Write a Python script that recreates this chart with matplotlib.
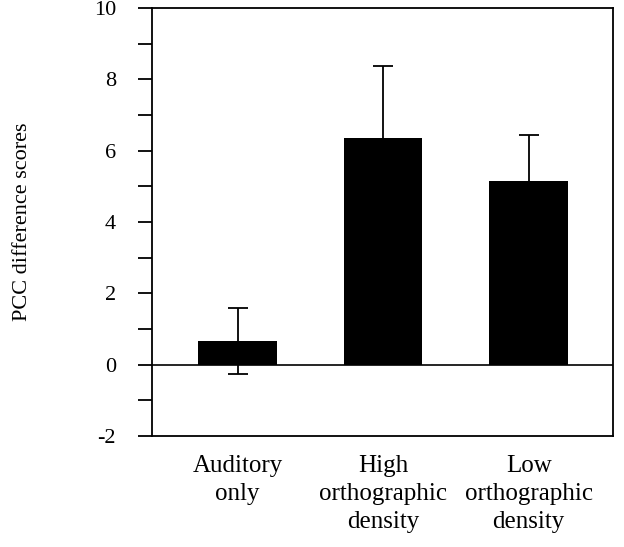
import matplotlib
matplotlib.use("Agg")
import matplotlib.pyplot as plt
from matplotlib.ticker import MultipleLocator

plt.rcParams["font.family"] = ["Liberation Serif", "DejaVu Serif"]
plt.rcParams["axes.unicode_minus"] = False

# 条件、均值与误差
CATEGORIES = ["Auditory\nonly", "High\northographic\ndensity", "Low\northographic\ndensity"]
MEANS = [0.67, 6.36, 5.16]
ERRORS = [0.93, 2.0, 1.28]
Y_TICKS = [-2, 0, 2, 4, 6, 8, 10]

fig = plt.figure(figsize=(6.24, 5.47), dpi=100)
ax = fig.add_axes([0.2436, 0.2029, 0.7388, 0.7825])

x = list(range(len(CATEGORIES)))
ax.bar(x, MEANS, width=0.54, color="black", zorder=2)
ax.errorbar(x, MEANS, yerr=ERRORS, fmt="none", ecolor="black",
            elinewidth=1.3, capsize=7.2, capthick=1.3, zorder=3)
ax.axhline(0, color="black", lw=1.2, zorder=1)

ax.set_xlim(-0.588, 2.58)
ax.set_ylim(-2, 10)
ax.set_yticks(Y_TICKS)
ax.yaxis.set_minor_locator(MultipleLocator(1))
ax.tick_params(axis="y", which="both", direction="out", length=10,
               width=1.3, pad=16, labelsize=16)
ax.set_xticks(x)
ax.set_xticklabels(CATEGORIES, fontsize=18, linespacing=1.33)
ax.tick_params(axis="x", length=0, pad=14)

for spine in ax.spines.values():
    spine.set_linewidth(1.3)

ax.set_ylabel("PCC difference scores", fontsize=16)
ax.yaxis.set_label_coords(-0.26, 0.5)

fig.savefig("out.png", dpi=100, facecolor="white")
